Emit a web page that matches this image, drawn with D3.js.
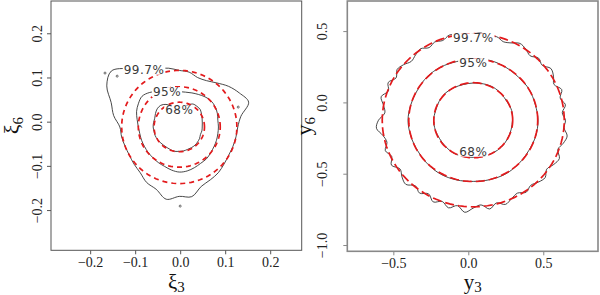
<!DOCTYPE html>
<html>
<head>
<meta charset="utf-8">
<script src="https://cdn.jsdelivr.net/npm/d3@7"></script>
<style>
  body { margin: 0; background: #fff; }
  text { font-family: "Liberation Serif", "Times New Roman", serif; }
</style>
</head>
<body>
<svg id="chart" width="600" height="295"></svg>
<script>
// ---- data ----
// left panel: xi_3 vs xi_6
var leftTicks = [-0.2, -0.1, 0.0, 0.1, 0.2];
var leftCenter = [-0.002, -0.012];
var leftRed = [0.056, 0.091, 0.128];            // radii of the dashed (theoretical) contours
var levelNames = ["68%", "95%", "99.7%"];
// empirical contours, radius every 10 degrees starting at +x, counter-clockwise
var left68 = [0.051, 0.052, 0.054, 0.057, 0.061, 0.061, 0.060, 0.052, 0.044, 0.038, 0.042, 0.050, 0.059, 0.064, 0.064, 0.061, 0.058, 0.058,
              0.058, 0.057, 0.057, 0.056, 0.055, 0.054, 0.054, 0.055, 0.056, 0.055, 0.055, 0.054, 0.054, 0.054, 0.053, 0.052, 0.050, 0.051];
var left95 = [0.087, 0.087, 0.090, 0.092, 0.092, 0.089, 0.085, 0.082, 0.080, 0.080, 0.081, 0.084, 0.093, 0.102, 0.108, 0.105, 0.101, 0.095,
              0.091, 0.089, 0.089, 0.089, 0.090, 0.091, 0.093, 0.095, 0.099, 0.102, 0.101, 0.098, 0.095, 0.094, 0.091, 0.089, 0.088, 0.087];
var left997 = [0.130, 0.139, 0.164, 0.154, 0.143, 0.130, 0.121, 0.119, 0.126, 0.128, 0.135, 0.141, 0.152, 0.173, 0.197, 0.186, 0.161, 0.148,
               0.132, 0.130, 0.128, 0.128, 0.131, 0.135, 0.145, 0.150, 0.166, 0.157, 0.160, 0.143, 0.138, 0.135, 0.130, 0.127, 0.127, 0.128];
var leftIslandsX = [-0.167, -0.140, 0.000, 0.129];
var leftIslandsY = [0.110, 0.103, -0.191, 0.033];

// right panel: y_3 vs y_6
var rightXTicks = [-0.5, 0.0, 0.5];
var rightYTicks = [-1.0, -0.5, 0.0, 0.5];
var rightCenter = [0.033, -0.125];
var rightRed = [0.263, 0.430, 0.607];
// radius every 15 degrees
var right68 = [0.262, 0.265, 0.260, 0.263, 0.267, 0.264, 0.261, 0.259, 0.262, 0.266, 0.263, 0.260,
               0.264, 0.262, 0.259, 0.261, 0.265, 0.263, 0.260, 0.262, 0.264, 0.266, 0.263, 0.261];
var right95 = [0.432, 0.428, 0.431, 0.427, 0.430, 0.434, 0.429, 0.426, 0.431, 0.433, 0.428, 0.430,
               0.435, 0.431, 0.428, 0.432, 0.436, 0.433, 0.429, 0.431, 0.434, 0.430, 0.427, 0.431];
// radius every 5 degrees
var right997 = [0.615, 0.596, 0.624, 0.600, 0.628, 0.594, 0.618, 0.632, 0.600, 0.616, 0.590, 0.610,
                0.622, 0.598, 0.586, 0.606, 0.594, 0.614, 0.604, 0.598, 0.610, 0.618, 0.595, 0.606,
                0.588, 0.612, 0.598, 0.584, 0.606, 0.620, 0.594, 0.626, 0.602, 0.636, 0.608, 0.592,
                0.632, 0.648, 0.612, 0.596, 0.624, 0.600, 0.630, 0.596, 0.620, 0.636, 0.600, 0.624,
                0.596, 0.632, 0.606, 0.636, 0.608, 0.648, 0.616, 0.596, 0.632, 0.600, 0.628, 0.606,
                0.590, 0.616, 0.596, 0.614, 0.626, 0.598, 0.620, 0.634, 0.600, 0.622, 0.636, 0.608];

var svg = d3.select("#chart");
var fmt = d3.format(".1f");
var red = "#e31a1c";

function polarPoints(center, radii) {
  var step = 2 * Math.PI / radii.length;
  return radii.map(function(r, i) {
    return [center[0] + r * Math.cos(i * step), center[1] + r * Math.sin(i * step)];
  });
}

function radiusAt(radii, deg) {
  var i = Math.round(deg / (360 / radii.length)) % radii.length;
  return radii[i];
}

function panel(o) {
  var x = d3.scaleLinear().domain(o.xDomain).range([o.left, o.right]);
  var y = d3.scaleLinear().domain(o.yDomain).range([o.bottom, o.top]);
  var g = svg.append("g");

  var line = d3.line()
    .x(function(d) { return x(d[0]); })
    .y(function(d) { return y(d[1]); });

  // empirical contours (black)
  o.black.forEach(function(radii) {
    g.append("path")
      .attr("d", line.curve(d3.curveCatmullRomClosed)(polarPoints(o.center, radii)))
      .attr("fill", "none")
      .attr("stroke", "#333")
      .attr("stroke-width", 0.9);
  });

  if (o.islandsX) {
    g.selectAll("circle.island")
      .data(o.islandsX)
      .join("circle")
        .attr("class", "island")
        .attr("cx", function(d) { return x(d); })
        .attr("cy", function(d, i) { return y(o.islandsY[i]); })
        .attr("r", 1)
        .attr("fill", "none")
        .attr("stroke", "#444")
        .attr("stroke-width", 0.8);
  }

  // theoretical contours (red dashed)
  var circleSteps = d3.range(0, 120);
  o.red.forEach(function(r) {
    var pts = circleSteps.map(function() { return r; });
    g.append("path")
      .attr("d", line.curve(d3.curveLinearClosed)(polarPoints(o.center, pts)))
      .attr("fill", "none")
      .attr("stroke", red)
      .attr("stroke-width", 1.7)
      .attr("stroke-dasharray", o.dash);
  });

  // contour labels
  levelNames.forEach(function(name, k) {
    var deg = o.labelAngles[k];
    var r = radiusAt(o.black[k], deg);
    var px = x(o.center[0] + r * Math.cos(deg * Math.PI / 180));
    var py = y(o.center[1] + r * Math.sin(deg * Math.PI / 180)) + o.labelShift[k];
    var t = g.append("text")
      .attr("x", px)
      .attr("y", py)
      .attr("dy", "0.36em")
      .attr("text-anchor", "middle")
      .style("font-family", "'DejaVu Sans', sans-serif")
      .style("font-size", "12px")
      .style("letter-spacing", "0.5px")
      .attr("fill", "#3a3a3a")
      .text(name);
    var bb = t.node().getBBox();
    g.insert("rect", function() { return t.node(); })
      .attr("x", bb.x - 1)
      .attr("y", bb.y + 2)
      .attr("width", bb.width + 2)
      .attr("height", bb.height - 4)
      .attr("fill", "#fff");
  });

  // axes
  var xAxis = g.append("g")
    .attr("transform", "translate(0," + o.bottom + ")")
    .call(d3.axisBottom(x).tickValues(o.xTicks).tickFormat(fmt).tickSize(4).tickSizeOuter(0));
  var yAxis = g.append("g")
    .attr("transform", "translate(" + o.left + ",0)")
    .call(d3.axisLeft(y).tickValues(o.yTicks).tickFormat(fmt).tickSize(4).tickSizeOuter(0));
  [xAxis, yAxis].forEach(function(a) {
    a.attr("font-family", "Liberation Serif").attr("font-size", 14);
    a.select(".domain").remove();
    a.selectAll("line").attr("stroke", o.frame);
    a.selectAll("text")
      .style("font-family", "'Liberation Serif', serif")
      .style("font-size", "14px")
      .attr("fill", "#222");
  });
  xAxis.selectAll("text").attr("y", 16.4).attr("dy", 0);
  yAxis.selectAll("text")
    .attr("transform", "rotate(-90)")
    .attr("text-anchor", "middle")
    .attr("x", 0)
    .attr("y", -o.yLabelGap)
    .attr("dy", 0);

  // frame
  g.append("rect")
    .attr("x", o.left)
    .attr("y", o.top)
    .attr("width", o.right - o.left)
    .attr("height", o.bottom - o.top)
    .attr("fill", "none")
    .attr("stroke", o.frame)
    .attr("stroke-width", o.frameWidth);

  // axis titles
  var xt = g.append("text")
    .attr("x", (o.left + o.right) / 2)
    .attr("y", 289)
    .attr("text-anchor", "middle")
    .style("font-size", "21px")
    .attr("fill", "#111")
    .text(o.xTitle[0]);
  xt.append("tspan").attr("dy", 3).style("font-size", "15px").text(o.xTitle[1]);

  var yt = g.append("text")
    .attr("transform", "translate(" + o.yTitleX + "," + (o.top + o.bottom) / 2 + ") rotate(-90)")
    .attr("text-anchor", "middle")
    .style("font-size", "22px")
    .attr("fill", "#111")
    .text(o.yTitle[0]);
  yt.append("tspan").attr("dy", 4).style("font-size", "15px").text(o.yTitle[1]);
}

panel({
  left: 51, right: 301.7, top: 1, bottom: 250.3,
  xDomain: [-0.287, 0.270], yDomain: [-0.291, 0.273],
  xTicks: leftTicks, yTicks: leftTicks,
  center: leftCenter, red: leftRed, black: [left68, left95, left997],
  islandsX: leftIslandsX, islandsY: leftIslandsY,
  labelAngles: [90, 109, 121], labelShift: [0, 0, 0],
  dash: "5,4", frame: "#555", frameWidth: 1, yLabelGap: 8.7,
  xTitle: ["\u03be", "3"], yTitle: ["\u03be", "6"], yTitleX: 19
});

panel({
  left: 347.3, right: 598, top: 1, bottom: 251.3,
  xDomain: [-0.807, 0.865], yDomain: [-1.044, 0.711],
  xTicks: rightXTicks, yTicks: rightYTicks,
  center: rightCenter, red: rightRed, black: [right68, right95, right997],
  labelAngles: [270, 90, 90], labelShift: [-6, 4, 4],
  dash: "9,4", frame: "#888", frameWidth: 1.6, yLabelGap: 20,
  xTitle: ["y", "3"], yTitle: ["y", "6"], yTitleX: 311
});
</script>
</body>
</html>
